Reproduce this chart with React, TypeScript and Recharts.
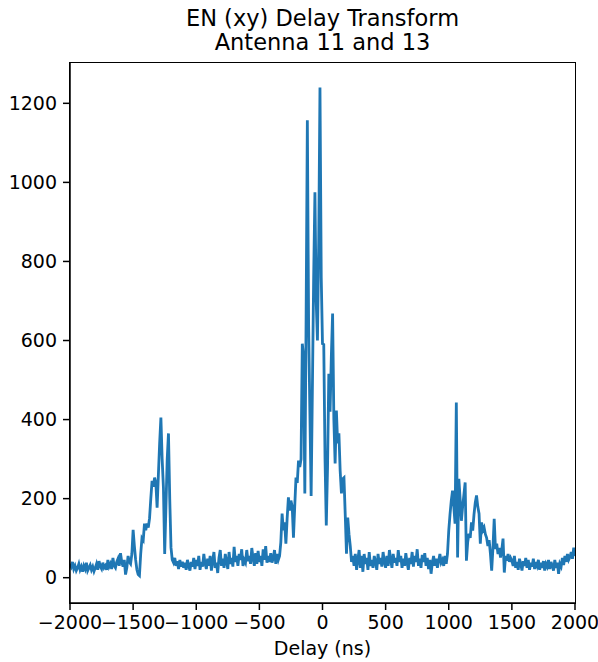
import React from 'react';
import { LineChart, Line, XAxis, YAxis } from 'recharts';

// Delay grid: -2000 .. 2000 ns, 10 ns per sample
const DELAY_START = -2000;
const DELAY_STEP = 10;

// Amplitude segments, 10 ns per value
const leftFloor = [
  35, 28, 40, 22, 30, 18, 25, 35, 20, 28,
  15, 30, 22, 38, 18, 25, 32, 20, 28, 16,
  25, 35, 20, 42, 28, 22, 38, 25, 30, 20,
  45, 28, 35, 22, 50, 30, 25, 40, 48, 30,
];
const leftLobe = [
  62, 40, 28, 45, 8, 25, 55, 40, 35, 60,
  121, 80, 45, 20, 8, 5, 60, 100, 95, 137,
  120, 137, 127, 150, 200, 245, 230, 253, 240, 177,
  260, 340, 405, 300, 228, 60, 180, 300, 365, 200,
  76, 45, 38, 50, 30, 42, 22, 45, 28, 40,
];
const innerLeftFloor = [
  25, 38, 20, 45, 30, 18, 40, 28, 50, 22,
  45, 30, 55, 20, 40, 28, 60, 35, 22, 48,
  30, 55, 18, 42, 65, 25, 38, 12, 50, 70,
  30, 48, 25, 60, 40, 22, 65, 35, 50, 28,
  78, 40, 55, 30, 60, 45, 72, 30, 45, 38,
  70, 42, 55, 35, 75, 50, 30, 62, 35, 68,
  40, 55, 30, 72, 45, 80, 38, 55, 40, 62,
];
const mainLobe = [
  38, 50, 70, 35, 60, 45, 55, 90, 162, 120,
  140, 86, 150, 203, 170, 195, 180, 101, 180, 253,
  240, 296, 280, 300, 592, 560, 213, 650, 1157, 640,
  420, 207, 480, 760, 975, 700, 600, 850, 1240, 760,
  592, 590, 300, 132, 280, 516, 420, 560, 668, 400,
  289, 423, 340, 365, 270, 213, 250, 253, 160, 61,
  152, 110, 80, 40, 55, 30, 60, 20, 45, 70,
];
const innerRightFloor = [
  25, 55, 15, 60, 35, 50, 20, 65, 30, 45,
  25, 55, 40, 20, 60, 35, 50, 28, 65, 40,
  25, 55, 30, 70, 45, 25, 60, 38, 50, 30,
  70, 40, 55, 25, 48, 30, 62, 38, 20, 50,
  35, 65, 28, 55, 40, 72, 30, 48, 25, 58,
  40, 62, 30, 50, 22, 45, 10, 38, 55, 30,
  48, 25, 42, 60, 38, 45, 30, 55, 35, 60,
];
const rightLobe = [
  119, 160, 195, 220, 180, 137, 443, 51, 250, 200,
  144, 180, 210, 241, 43, 90, 111, 101, 140, 119,
  160, 190, 208, 180, 162, 86, 140, 120, 127, 110,
  101, 80, 95, 61, 18, 75, 149, 73, 86, 60,
  75, 51, 70, 99, 13, 55, 43, 60, 40, 50,
];
const rightFloor = [
  43, 30, 55, 25, 40, 20, 48, 35, 18, 42,
  30, 50, 25, 45, 20, 38, 28, 48, 22, 40,
  30, 45, 20, 38, 25, 42, 18, 35, 28, 45,
  22, 40, 30, 18, 45, 25, 38, 10, 35, 28,
  50, 32, 55, 40, 60, 45, 52, 65, 48, 76,
  55,
];

const xTicks = [-2000, -1500, -1000, -500, 0, 500, 1000, 1500, 2000];
const yTicks = [0, 200, 400, 600, 800, 1000, 1200];

const amplitude = [
  ...leftFloor,
  ...leftLobe,
  ...innerLeftFloor,
  ...mainLobe,
  ...innerRightFloor,
  ...rightLobe,
  ...rightFloor,
];
const data = amplitude.map((v, i) => ({ delay: DELAY_START + i * DELAY_STEP, amp: v }));

const FONT = '"DejaVu Sans", sans-serif';
const fmt = (v: number) => (v < 0 ? `\u2212${-v}` : `${v}`);

export default function App() {
  return (
    <div style={{ position: 'absolute', left: 0, top: 0, width: 598, height: 662, background: '#fff', fontFamily: FONT }}>
      <div
        style={{
          position: 'absolute',
          left: 0,
          top: 6,
          width: 645,
          textAlign: 'center',
          fontSize: 22.5,
          lineHeight: '24px',
          color: '#000',
        }}
      >
        <div>EN (xy) Delay Transform</div>
        <div>Antenna 11 and 13</div>
      </div>
      <LineChart
        width={598}
        height={662}
        data={data}
        margin={{ top: 63, right: 23, bottom: 0, left: 0 }}
      >
        <XAxis
          dataKey="delay"
          type="number"
          domain={[-2000, 2000]}
          ticks={xTicks}
          tickFormatter={fmt}
          allowDataOverflow
          height={59}
          tickSize={7}
          tickMargin={6}
          stroke="#000"
          strokeWidth={1.5}
          tick={{ fill: '#000', fontSize: 19, fontFamily: FONT }}
        />
        <YAxis
          type="number"
          domain={[-64, 1302]}
          ticks={yTicks}
          allowDataOverflow
          width={70}
          tickSize={7}
          tickMargin={6}
          stroke="#000"
          strokeWidth={1.5}
          tick={{ fill: '#000', fontSize: 19, fontFamily: FONT }}
        />
        <Line
          dataKey="amp"
          type="linear"
          stroke="#1f77b4"
          strokeWidth={2.8}
          dot={false}
          activeDot={false}
          isAnimationActive={false}
        />
      </LineChart>
      <div
        style={{
          position: 'absolute',
          left: 69.25,
          top: 62.25,
          width: 505,
          height: 540,
          border: '1.5px solid #000',
          pointerEvents: 'none',
        }}
      />
      <div
        style={{
          position: 'absolute',
          left: 0,
          top: 639,
          width: 645,
          textAlign: 'center',
          fontSize: 19,
          lineHeight: '19px',
          color: '#000',
        }}
      >
        Delay (ns)
      </div>
    </div>
  );
}
